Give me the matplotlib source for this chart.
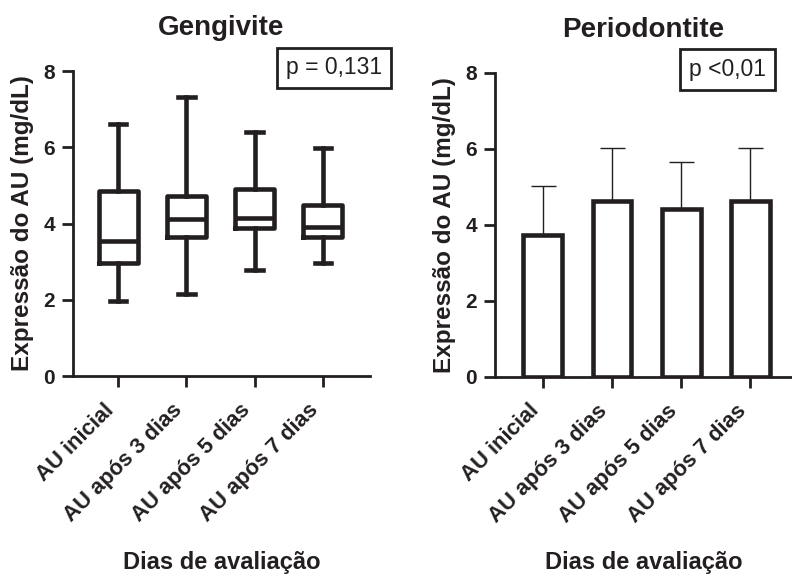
import matplotlib
matplotlib.use("Agg")
import matplotlib.pyplot as plt
from matplotlib.transforms import ScaledTranslation

plt.rcParams["font.family"] = ["Liberation Sans", "DejaVu Sans"]

# dados
categorias = ["AU inicial", "AU após 3 dias", "AU após 5 dias", "AU após 7 dias"]
gengivite_min = [1.97, 2.15, 2.78, 2.97]
gengivite_q1 = [2.96, 3.64, 3.89, 3.64]
gengivite_med = [3.55, 4.12, 4.14, 3.92]
gengivite_q3 = [4.85, 4.71, 4.90, 4.49]
gengivite_max = [6.60, 7.33, 6.39, 5.97]
periodontite_media = [3.74, 4.63, 4.40, 4.63]
periodontite_dp = [1.29, 1.40, 1.25, 1.40]
yticks = [0, 2, 4, 6, 8]

cor = "#231f20"
pos = list(range(len(categorias)))

fig = plt.figure(figsize=(7.92, 5.76), dpi=100)
ax1 = fig.add_axes([73 / 792, 1 - 376 / 576, 297 / 792, 305 / 576])
ax2 = fig.add_axes([495 / 792, 1 - 376.7 / 576, 297 / 792, 304 / 576])


def estilo(ax, titulo, ptexto, px, xlim):
    ax.set_xlim(*xlim)
    ax.set_ylim(0, 8)
    ax.set_yticks(yticks)
    ax.set_xticks(pos)
    ax.set_xticklabels(categorias, rotation=45, ha="right", va="top",
                       fontsize=15.8, fontweight="bold", color=cor)
    # pequeno deslocamento para a direita, como no original
    desloc = ScaledTranslation(4 / 72, 0, fig.dpi_scale_trans)
    for lab in ax.get_xticklabels():
        lab.set_transform(lab.get_transform() + desloc)
    for lab in ax.get_yticklabels():
        lab.set_fontsize(15)
        lab.set_fontweight("bold")
        lab.set_color(cor)
    ax.spines["top"].set_visible(False)
    ax.spines["right"].set_visible(False)
    for s in ("left", "bottom"):
        ax.spines[s].set_linewidth(2)
        ax.spines[s].set_color(cor)
    ax.tick_params(axis="both", width=2, length=8, color=cor)
    ax.tick_params(axis="x", pad=9)
    ax.tick_params(axis="y", pad=5)
    ax.set_title(titulo, fontsize=20, fontweight="bold", color=cor, pad=26)
    ax.set_ylabel("Expressão do AU (mg/dL)", fontsize=17.5, fontweight="bold", color=cor)
    ax.yaxis.set_label_coords(-0.13, 0.5)
    ax.set_xlabel("Dias de avaliação", fontsize=17, fontweight="bold", color=cor)
    ax.xaxis.set_label_coords(0.5, -0.575)
    ax.text(px, 1.01, ptexto, transform=ax.transAxes, ha="center", va="center",
            fontsize=16.5, color=cor,
            bbox=dict(boxstyle="square,pad=0.38", fc="white", ec=cor, lw=2))


# Gengivite - boxplot
stats = []
for i in range(len(categorias)):
    stats.append(dict(med=gengivite_med[i], q1=gengivite_q1[i], q3=gengivite_q3[i],
                      whislo=gengivite_min[i], whishi=gengivite_max[i], fliers=[]))
lp = dict(color=cor, linewidth=3.3)
ax1.bxp(stats, positions=pos, widths=0.57, capwidths=0.24, showfliers=False,
        boxprops=lp, whiskerprops=lp, capprops=lp, medianprops=lp)
estilo(ax1, "Gengivite", "p = 0,131", 0.879, (-0.66, 3.69))

# Periodontite - barras com desvio padrão
ax2.bar(pos, periodontite_media, width=0.56, color="white", edgecolor=cor,
        linewidth=3.3, zorder=3)
ax2.errorbar(pos, periodontite_media, yerr=[[0] * 4, periodontite_dp], fmt="none",
             ecolor=cor, elinewidth=1, capsize=9, capthick=1, zorder=2)
estilo(ax2, "Periodontite", "p <0,01", 0.783, (-0.69, 3.6))

fig.savefig("out.png", dpi=100)
